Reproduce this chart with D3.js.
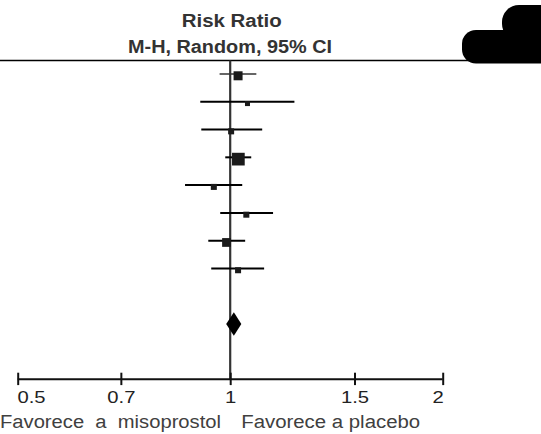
<!DOCTYPE html>
<html>
<head>
<meta charset="utf-8">
<script src="https://cdn.jsdelivr.net/npm/d3@7"></script>
<style>
  html, body { margin: 0; padding: 0; background: #fff; }
  svg { display: block; font-family: "Liberation Sans", Arial, sans-serif; }
</style>
</head>
<body>
<svg id="chart" width="541" height="434"></svg>
<script>
/* data */
const rr     = [1.026, 1.058, 1.003, 1.027, 0.948, 1.054, 0.988, 1.026];
const lower  = [0.966, 0.907, 0.910, 0.984, 0.863, 0.968, 0.931, 0.940];
const upper  = [1.089, 1.233, 1.110, 1.071, 1.040, 1.150, 1.050, 1.117];
const weight = [16.6, 5.1, 7.4, 33.0, 7.4, 7.4, 15.7, 7.4];
const pooled = [1.012, 0.987, 1.037]; // estimate, lower, upper
const tickValues = [0.5, 0.7, 1, 1.5, 2];
const tickLabels = ["0.5", "0.7", "1", "1.5", "2"];
const titleLines = ["Risk Ratio", "M-H, Random, 95% CI"];
const favourLabels = ["Favorece  a  misoprostol", "Favorece a placebo"];

const svg = d3.select("#chart");

const x = d3.scaleLog().domain([0.5, 2]).range([17.7, 442.7]);
// 8 studies, one empty row, then the pooled diamond
const y = d3.scalePoint().domain(d3.range(10)).range([74, 324]);
const side = d3.scaleSqrt().domain([0, 33]).range([0, 12.7]);

const rows = rr.map((d, i) => ({est: d, lo: lower[i], hi: upper[i], w: weight[i], i}));

// stretch text horizontally to the width seen in the picture
function fitWidth(sel, w) {
  sel.attr("textLength", w).attr("lengthAdjust", "spacingAndGlyphs");
}

/* ---------- header ---------- */
svg.append("text")
  .attr("x", 231.7).attr("y", 26.7)
  .attr("text-anchor", "middle")
  .attr("font-size", 18.8).attr("font-weight", "bold").attr("fill", "#333")
  .text(titleLines[0])
  .call(fitWidth, 100);

svg.append("text")
  .attr("x", 230).attr("y", 53.3)
  .attr("text-anchor", "middle")
  .attr("font-size", 18).attr("font-weight", "bold").attr("fill", "#333")
  .text(titleLines[1])
  .call(fitWidth, 204);

svg.append("line")
  .attr("x1", 0).attr("x2", 470)
  .attr("y1", 60.5).attr("y2", 60.5)
  .attr("stroke", "#000").attr("stroke-width", 1.6);

// cropped dark shape at the top right corner
svg.append("rect")
  .attr("x", 502).attr("y", 5).attr("width", 70).attr("height", 36).attr("rx", 17)
  .attr("fill", "#000");
svg.append("rect")
  .attr("x", 462).attr("y", 30).attr("width", 100).attr("height", 33.5).attr("rx", 14)
  .attr("fill", "#000");

/* ---------- line of no effect ---------- */
svg.append("line")
  .attr("x1", x(1)).attr("x2", x(1))
  .attr("y1", 60.5).attr("y2", 379.3)
  .attr("stroke", "#333").attr("stroke-width", 2.2);

/* ---------- studies ---------- */
svg.selectAll(".ci")
  .data(rows)
  .join("line")
  .attr("class", "ci")
  .attr("x1", d => x(d.lo)).attr("x2", d => x(d.hi))
  .attr("y1", d => y(d.i)).attr("y2", d => y(d.i))
  .attr("stroke", (d, i) => i === 0 ? "#333" : "#000")
  .attr("stroke-width", (d, i) => i === 0 ? 1.6 : 2);

svg.selectAll(".box")
  .data(rows)
  .join("rect")
  .attr("class", "box")
  .attr("x", d => x(d.est) - side(d.w) / 2)
  .attr("y", d => y(d.i) + 1.8 - side(d.w) / 2)
  .attr("width", d => side(d.w))
  .attr("height", d => side(d.w))
  .attr("fill", "#1a1a1a");

/* ---------- pooled diamond ---------- */
const yd = y(9);
svg.append("path")
  .attr("d", `M${x(pooled[1])},${yd} L${x(pooled[0])},${yd - 11.7} L${x(pooled[2])},${yd} L${x(pooled[0])},${yd + 11.7} Z`)
  .attr("fill", "#000");

/* ---------- axis ---------- */
const axis = d3.axisBottom(x)
  .tickValues(tickValues)
  .tickFormat((d, i) => tickLabels[i])
  .tickSizeOuter(0);

const gx = svg.append("g")
  .attr("transform", "translate(0,379.3)")
  .call(axis);

gx.select(".domain")
  .attr("d", `M${x(0.5)},0H${x(2)}`)
  .attr("stroke", "#111").attr("stroke-width", 2);

gx.selectAll(".tick line")
  .attr("y1", -6.6).attr("y2", 5.8)
  .attr("stroke", "#111").attr("stroke-width", 2);

const n = tickValues.length;
gx.selectAll(".tick text")
  .attr("y", 24).attr("dy", null)
  .attr("font-family", "Liberation Sans, Arial, sans-serif")
  .attr("font-size", 16.6)
  .attr("fill", "#222")
  .attr("text-anchor", (d, i) => i === 0 ? "start" : i === n - 1 ? "end" : "middle")
  .attr("dx", (d, i) => i === 0 ? -0.8 : i === n - 1 ? 0.6 : 0)
  .each(function() {
    const t = d3.select(this);
    t.call(fitWidth, this.getComputedTextLength() * 1.22);
  });

/* ---------- favours labels ---------- */
svg.append("text")
  .attr("x", 0).attr("y", 428.3)
  .attr("xml:space", "preserve")
  .style("white-space", "pre")
  .attr("font-size", 18).attr("fill", "#404040")
  .text(favourLabels[0])
  .call(fitWidth, 221);

svg.append("text")
  .attr("x", 241.2).attr("y", 428.3)
  .attr("font-size", 18).attr("fill", "#404040")
  .text(favourLabels[1])
  .call(fitWidth, 179);
</script>
</body>
</html>
